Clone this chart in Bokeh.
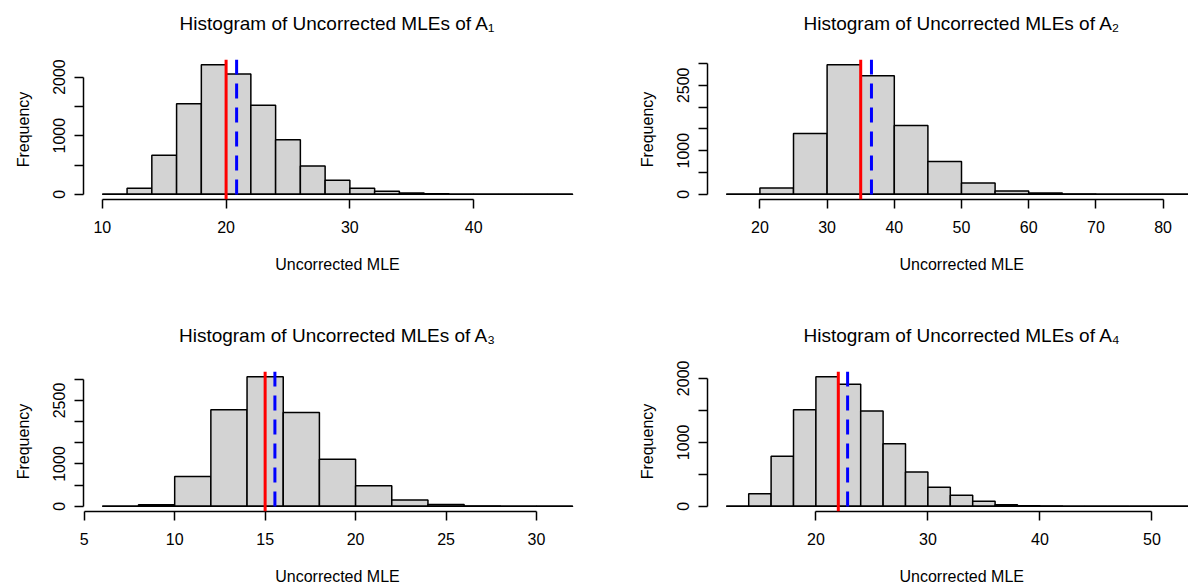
from bokeh.plotting import figure
from bokeh.models import Range1d, FixedTicker, Span, Title
from bokeh.layouts import column, row
from bokeh.embed import file_html
from bokeh.resources import INLINE

# ---------------- data ----------------
titles = [
    "Histogram of Uncorrected MLEs of A\u2081",
    "Histogram of Uncorrected MLEs of A\u2082",
    "Histogram of Uncorrected MLEs of A\u2083",
    "Histogram of Uncorrected MLEs of A\u2084",
]

edges1 = list(range(10, 50, 2))
counts1 = [0, 105, 665, 1546, 2211, 2052, 1517, 932, 483, 239, 102, 51, 23, 8, 3, 1, 0, 0, 1]

edges2 = list(range(15, 90, 5))
counts2 = [0, 145, 1395, 2973, 2721, 1578, 755, 259, 76, 30, 5, 2, 0, 1]

edges3 = list(range(6, 34, 2))
counts3 = [0, 39, 705, 2279, 3062, 2216, 1112, 486, 152, 42, 6, 1, 1]

edges4 = list(range(12, 56, 2))
counts4 = [0, 198, 781, 1510, 2026, 1906, 1490, 979, 536, 297, 172, 78, 26, 8, 3, 1, 0, 0, 0, 0, 1]

true_values = [20, 35, 15, 22]
mean_values = [20.85, 36.6, 15.54, 22.83]

xticks1 = [10, 20, 30, 40]
xticks2 = [20, 30, 40, 50, 60, 70, 80]
xticks3 = [5, 10, 15, 20, 25, 30]
xticks4 = [20, 30, 40, 50]

yticks1 = [0, 500, 1000, 1500, 2000]
yticks2 = [0, 500, 1000, 1500, 2000, 2500, 3000]
yticks3 = [0, 500, 1000, 1500, 2000, 2500, 3000]
yticks4 = [0, 500, 1000, 1500, 2000]

ylabels_shown1 = [0, 1000, 2000]
ylabels_shown2 = [0, 1000, 2500]
ylabels_shown3 = [0, 1000, 2500]
ylabels_shown4 = [0, 1000, 2000]

x_label = "Uncorrected MLE"
y_label = "Frequency"

FONT = "Liberation Sans"
FRAME_W = 508          # full plot-region width
FRAME_H = 140


def make(title, edges, counts, tval, mval, xt, yt, yshown, right_col, top_row):
    lo, hi = edges[0], edges[-1]
    pad = 0.04 * (hi - lo)
    xs, xe_full = lo - pad, hi + pad
    xe = xe_full
    if right_col:
        vis_w = 1188 - 594 - 113
        xe = xs + (xe_full - xs) * vis_w / FRAME_W
        bl, br = 113, 0
    else:
        bl, br = 83, 594 - 83 - FRAME_W
    ymax = max(counts)
    ys, ye = -0.04 * ymax, 1.04 * ymax
    if top_row:
        bt, bb = 59, 294 - 59 - FRAME_H
    else:
        bt, bb = 77, 294 - 77 - FRAME_H

    p = figure(width=594, height=294,
               x_range=Range1d(xs, xe), y_range=Range1d(ys, ye),
               output_backend="svg", toolbar_location=None,
               min_border_left=bl, min_border_right=br,
               min_border_top=bt, min_border_bottom=bb,
               outline_line_color=None)
    p.background_fill_color = "white"
    p.border_fill_color = "white"
    p.xgrid.visible = False
    p.ygrid.visible = False

    p.quad(left=edges[:-1], right=edges[1:], bottom=0, top=counts,
           fill_color="#D3D3D3", line_color="black", line_width=1.5)
    p.line(x=[edges[0], edges[-1]], y=[0, 0], line_color="black", line_width=1.5)

    p.add_layout(Span(location=tval, dimension="height", line_color="#FF0000", line_width=3))
    p.add_layout(Span(location=mval, dimension="height", line_color="#0000FF",
                      line_width=3, line_dash="15 9"))

    # spacer between frame and title (nearest the frame), then the title itself
    p.add_layout(Title(text=" ", text_font_size="1px", standoff=23), "above")
    t = Title(text=title, align="center", standoff=0, text_font=FONT,
              text_font_size="19px", text_font_style="normal", text_color="black")
    if right_col:
        # the plot region is cropped on the right: centre over the full region
        t.align = "left"
        t.offset = 96
    p.add_layout(t, "above")

    for ax in (p.xaxis[0], p.yaxis[0]):
        ax.axis_line_width = 1.5
        ax.major_tick_line_width = 1.5
        ax.major_tick_in = 0
        ax.major_tick_out = 9
        ax.minor_tick_line_color = None
        ax.major_label_text_font = FONT
        ax.major_label_text_font_size = "16px"
        ax.major_label_text_color = "black"
        ax.axis_label_text_font = FONT
        ax.axis_label_text_font_size = "16px"
        ax.axis_label_text_font_style = "normal"
        ax.axis_label_text_color = "black"

    xa = p.xaxis[0]
    xa.ticker = FixedTicker(ticks=xt)
    xa.bounds = (xt[0], xt[-1])
    xa.major_label_standoff = 12
    if right_col:
        # x label centred over the full (cropped) region, set below the axis
        p.add_layout(Title(text=" ", text_font_size="1px", standoff=15), "below")
        p.add_layout(Title(text=x_label, align="left", offset=192, standoff=0,
                           text_font=FONT, text_font_size="16px",
                           text_font_style="normal", text_color="black"), "below")
    else:
        xa.axis_label = x_label
        xa.axis_label_standoff = 20

    ya = p.yaxis[0]
    ya.ticker = FixedTicker(ticks=yt)
    ya.bounds = (yt[0], yt[-1])
    ya.major_label_orientation = "vertical"
    ya.major_label_overrides = {t: (str(t) if t in yshown else "") for t in yt}
    ya.axis_label = y_label
    ya.major_label_standoff = 9
    ya.axis_label_standoff = 19
    return p


p1 = make(titles[0], edges1, counts1, true_values[0], mean_values[0], xticks1, yticks1, ylabels_shown1, False, True)
p2 = make(titles[1], edges2, counts2, true_values[1], mean_values[1], xticks2, yticks2, ylabels_shown2, True, True)
p3 = make(titles[2], edges3, counts3, true_values[2], mean_values[2], xticks3, yticks3, ylabels_shown3, False, False)
p4 = make(titles[3], edges4, counts4, true_values[3], mean_values[3], xticks4, yticks4, ylabels_shown4, True, False)

layout = column(row(p1, p2, spacing=0), row(p3, p4, spacing=0), spacing=0)

open("out.html", "w").write(file_html(layout, INLINE))
